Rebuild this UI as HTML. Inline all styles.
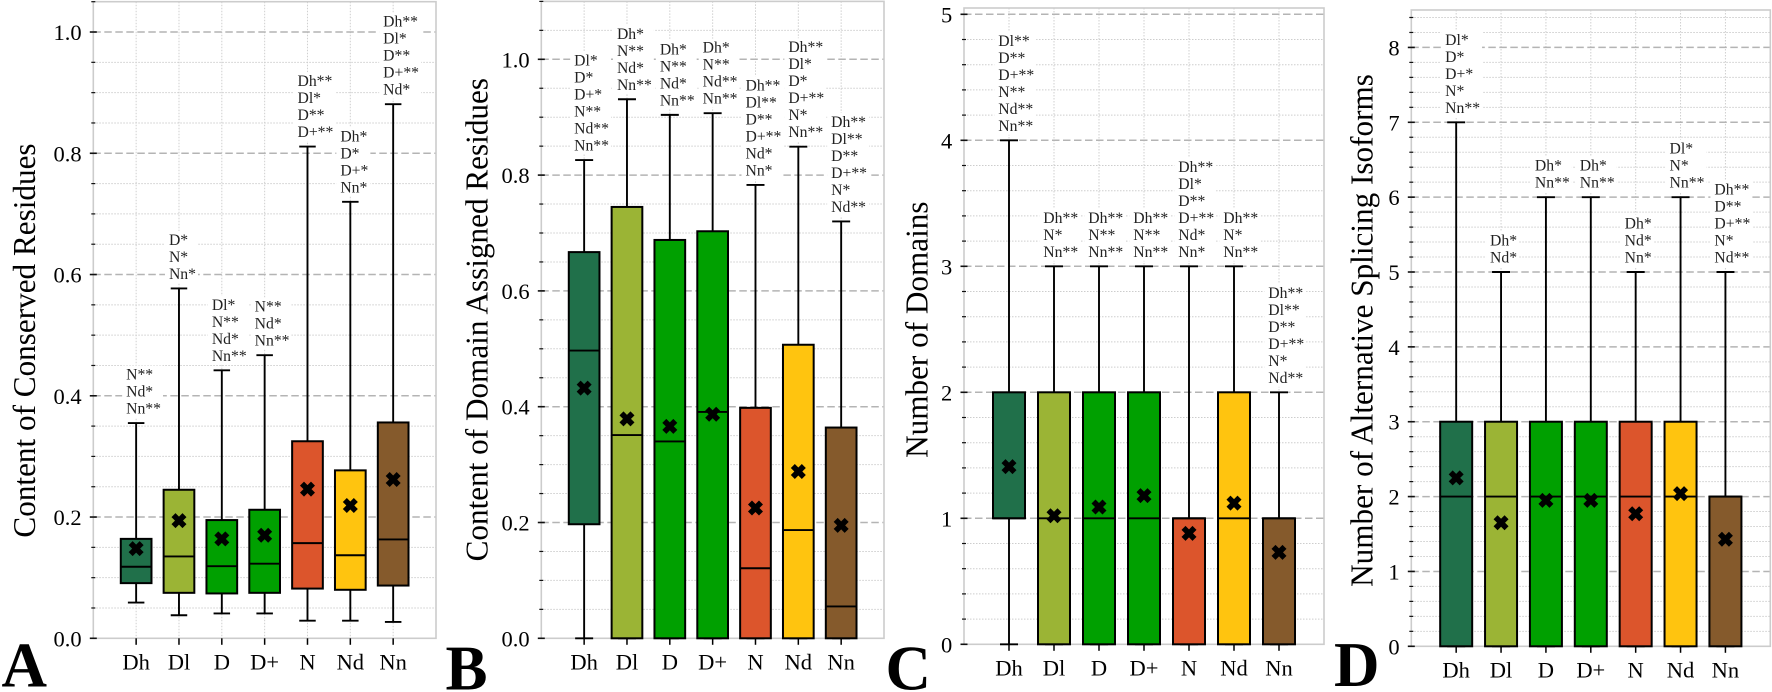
<!DOCTYPE html>
<html lang="en">
<head>
<meta charset="utf-8">
<title>Box plots of protein features</title>
<style>
html,body{margin:0;padding:0;background:#fff;width:1772px;height:692px;overflow:hidden}
svg{display:block;font-family:"Liberation Serif",serif;filter:blur(0.35px)}
</style>
</head>
<body>
<svg id="figure" xmlns="http://www.w3.org/2000/svg" width="1772" height="692" viewBox="0 0 1772 692"></svg>
<script>
const categories = ['Dh','Dl','D','D+','N','Nd','Nn'];

const panelAQ1 = [0.091,0.075,0.074,0.075,0.082,0.080,0.087];
const panelAMedian = [0.118,0.135,0.119,0.123,0.157,0.137,0.163];
const panelAQ3 = [0.164,0.245,0.195,0.212,0.325,0.277,0.356];
const panelALow = [0.059,0.038,0.041,0.041,0.029,0.029,0.027];
const panelAHigh = [0.355,0.577,0.442,0.467,0.811,0.720,0.881];
const panelAMean = [0.148,0.194,0.164,0.170,0.246,0.219,0.262];
const panelASig = [
  ['N**','Nd*','Nn**'],['D*','N*','Nn*'],['Dl*','N**','Nd*','Nn**'],['N**','Nd*','Nn**'],
  ['Dh**','Dl*','D**','D+**'],['Dh*','D*','D+*','Nn*'],['Dh**','Dl*','D**','D+**','Nd*']];
const panelATicks = ['0.0','0.2','0.4','0.6','0.8','1.0'];

const panelBQ1 = [0.197,0,0,0,0,0,0];
const panelBMedian = [0.497,0.351,0.340,0.391,0.121,0.187,0.055];
const panelBQ3 = [0.667,0.745,0.688,0.703,0.398,0.507,0.364];
const panelBLow = [0,0,0,0,0,0,0];
const panelBHigh = [0.826,0.931,0.904,0.907,0.783,0.849,0.720];
const panelBMean = [0.432,0.379,0.366,0.387,0.225,0.288,0.195];
const panelBSig = [
  ['Dl*','D*','D+*','N**','Nd**','Nn**'],['Dh*','N**','Nd*','Nn**'],['Dh*','N**','Nd*','Nn**'],
  ['Dh*','N**','Nd**','Nn**'],['Dh**','Dl**','D**','D+**','Nd*','Nn*'],
  ['Dh**','Dl*','D*','D+**','N*','Nn**'],['Dh**','Dl**','D**','D+**','N*','Nd**']];
const panelBTicks = ['0.0','0.2','0.4','0.6','0.8','1.0'];

const panelCQ1 = [1,0,0,0,0,0,0];
const panelCMedian = [1,1,1,1,1,1,1];
const panelCQ3 = [2,2,2,2,1,2,1];
const panelCLow = [0,0,0,0,0,0,0];
const panelCHigh = [4,3,3,3,3,3,2];
const panelCMean = [1.41,1.02,1.09,1.18,0.88,1.12,0.73];
const panelCSig = [
  ['Dl**','D**','D+**','N**','Nd**','Nn**'],['Dh**','N*','Nn**'],['Dh**','N**','Nn**'],
  ['Dh**','N**','Nn**'],['Dh**','Dl*','D**','D+**','Nd*','Nn*'],['Dh**','N*','Nn**'],
  ['Dh**','Dl**','D**','D+**','N*','Nd**']];
const panelCTicks = ['0','1','2','3','4','5'];

const panelDQ1 = [0,0,0,0,0,0,0];
const panelDMedian = [2,2,2,2,2,2,2];
const panelDQ3 = [3,3,3,3,3,3,2];
const panelDLow = [0,0,0,0,0,0,0];
const panelDHigh = [7,5,6,6,5,6,5];
const panelDMean = [2.25,1.65,1.95,1.95,1.77,2.04,1.43];
const panelDSig = [
  ['Dl*','D*','D+*','N*','Nn**'],['Dh*','Nd*'],['Dh*','Nn**'],['Dh*','Nn**'],
  ['Dh*','Nd*','Nn*'],['Dl*','N*','Nn**'],['Dh**','D**','D+**','N*','Nd**']];
const panelDTicks = ['0','1','2','3','4','5','6','7','8'];

const boxColors = ['#20704a','#9bb435','#00a000','#00a000','#dc552c','#ffc40f','#855a2c'];
const NS = 'http://www.w3.org/2000/svg';
const root = document.getElementById('figure');

const panels = [
  {id:'a',letter:'A',lx:1.5,ly:686.5,title:'Content of Conserved Residues',tx:35,ty:340.5,left:93.3,right:436,top:1.7,bottom:638.3,
   yMax:1.05,major:0.2,minor:0.05,boxW:30.7,cap:16.5,labelDx:-10,tickLabels:panelATicks,
   q1:panelAQ1,med:panelAMedian,q3:panelAQ3,lo:panelALow,hi:panelAHigh,mean:panelAMean,sig:panelASig},
  {id:'b',letter:'B',lx:445.5,ly:689.5,title:'Content of Domain Assigned Residues',tx:487.7,ty:319.7,left:541.3,right:884,top:1.4,bottom:638.3,
   yMax:1.1,major:0.2,minor:0.05,boxW:30.7,cap:18,labelDx:-10,tickLabels:panelBTicks,
   q1:panelBQ1,med:panelBMedian,q3:panelBQ3,lo:panelBLow,hi:panelBHigh,mean:panelBMean,sig:panelBSig},
  {id:'c',letter:'C',lx:885.5,ly:689.5,title:'Number of Domains',tx:927.7,ty:329.7,left:964,right:1324,top:8,bottom:644.3,
   yMax:5.05,major:1,minor:0.2,boxW:32,cap:18,labelDx:-10.7,tickLabels:panelCTicks,
   q1:panelCQ1,med:panelCMedian,q3:panelCQ3,lo:panelCLow,hi:panelCHigh,mean:panelCMean,sig:panelCSig},
  {id:'d',letter:'D',lx:1334,ly:686,title:'Number of Alternative Splicing Isoforms',tx:1372.7,ty:330.5,left:1411.3,right:1770.3,top:10,bottom:646.3,
   yMax:8.5,major:1,minor:0.2,boxW:32,cap:18,labelDx:-11,tickLabels:panelDTicks,
   q1:panelDQ1,med:panelDMedian,q3:panelDQ3,lo:panelDLow,hi:panelDHigh,mean:panelDMean,sig:panelDSig}
];

function mk(tag, attrs, parent) {
  const el = document.createElementNS(NS, tag);
  for (const k in attrs) el.setAttribute(k, attrs[k]);
  parent.appendChild(el);
  return el;
}

function drawPanel(p) {
  const yAxis = v => p.bottom - (v / p.yMax) * (p.bottom - p.top);
  const step = (p.right - p.left) / 8;
  const xAxis = i => p.left + step * (i + 1);

  const g = mk('g', {}, root);
  
  

  // vertical dotted grid
  categories.forEach((c, i) => {
    const gl = mk('line', {x1:xAxis(i),x2:xAxis(i),y1:p.top,y2:p.bottom,stroke:'#cfcfcf','stroke-width':1,'stroke-dasharray':'1.5 1.5'}, g);
    
    
  });

  // horizontal grid and ticks
  const nMinor = Math.floor(p.yMax / p.minor + 1e-6);
  const every = Math.round(p.major / p.minor);
  for (let k = 0; k <= nMinor; k++) {
    const v = k * p.minor;
    const y = yAxis(v);
    const isMajor = k % every === 0;
    const line = mk('line', isMajor
      ? {x1:p.left,x2:p.right,y1:y,y2:y,stroke:'#b4b4b4','stroke-width':1.5,'stroke-dasharray':'7.5 3.5'}
      : {x1:p.left,x2:p.right,y1:y,y2:y,stroke:'#cdcdcd','stroke-width':1,'stroke-dasharray':'1.5 1.5'}, g);
    
    
  }

  // spines
  const spine = mk('rect', {x:p.left,y:p.top,width:p.right-p.left,height:p.bottom-p.top,fill:'none',stroke:'#cccccc','stroke-width':1.6}, g);
  
  

  for (let k = 0; k <= nMinor; k++) {
    const y = yAxis(k * p.minor);
    const isMajor = k % every === 0;
    const tick = mk('line', {x1:p.left-(isMajor?3.5:2),x2:p.left+(isMajor?3.5:2),y1:y,y2:y,stroke:'#111','stroke-width':isMajor?1.6:1.2}, g);
    
    
  }
  p.tickLabels.forEach(label => {
    const t = mk('text', {x:p.left-11.7,y:yAxis(parseFloat(label))+8,'text-anchor':'end','font-size':22.5,fill:'#000'}, g);
    t.textContent = label;
    
    
  });

  const title = mk('text', {transform:'translate('+p.tx+' '+p.ty+') rotate(-90)','text-anchor':'middle','font-size':31.2,fill:'#000'}, g);
  title.textContent = p.title;
  
  

  // boxes
  categories.forEach((c, i) => {
    const x = xAxis(i);
    const wh = mk('line', {x1:x,x2:x,y1:yAxis(p.q3[i]),y2:yAxis(p.hi[i]),stroke:'#000','stroke-width':1.9}, g);
    
    
    const wl = mk('line', {x1:x,x2:x,y1:yAxis(p.q1[i]),y2:yAxis(p.lo[i]),stroke:'#000','stroke-width':1.9}, g);
    
    
    const ch = mk('line', {x1:x-p.cap/2,x2:x+p.cap/2,y1:yAxis(p.hi[i]),y2:yAxis(p.hi[i]),stroke:'#000','stroke-width':1.9}, g);
    
    
    const cl = mk('line', {x1:x-p.cap/2,x2:x+p.cap/2,y1:yAxis(p.lo[i]),y2:yAxis(p.lo[i]),stroke:'#000','stroke-width':1.9}, g);
    
    

    const box = mk('rect', {x:x-p.boxW/2,y:yAxis(p.q3[i]),width:p.boxW,height:yAxis(p.q1[i])-yAxis(p.q3[i]),fill:boxColors[i],stroke:'#000','stroke-width':2}, g);
    
    
    const med = mk('line', {x1:x-p.boxW/2,x2:x+p.boxW/2,y1:yAxis(p.med[i]),y2:yAxis(p.med[i]),stroke:'#000','stroke-width':1.9}, g);
    
    

    const my = yAxis(p.mean[i]);
    const mark = mk('path', {transform:'translate('+x+' '+my+')',fill:'#000',d:'M-3.5,-7.5 L0,-4 L3.5,-7.5 L7.5,-3.5 L4,0 L7.5,3.5 L3.5,7.5 L0,4 L-3.5,7.5 L-7.5,3.5 L-4,0 L-7.5,-3.5 Z'}, g);
    
    

    const xt = mk('line', {x1:x,x2:x,y1:p.bottom,y2:p.bottom+6.5,stroke:'#000','stroke-width':1.5}, g);
    
    
    const xl = mk('text', {x:x,y:p.bottom+31,'text-anchor':'middle','font-size':22.5,fill:'#000'}, g);
    xl.textContent = c;
    
    

    // significance annotation
    const lines = p.sig[i];
    const lastBase = yAxis(p.hi[i]) - 9.5;
    const lx = x + p.labelDx;
    const bg = mk('rect', {fill:'#fff'}, g);
    
    
    let w = 0;
    lines.forEach((s, n) => {
      const t = mk('text', {x:lx,y:lastBase-(lines.length-1-n)*17,'font-size':15.7,fill:'#222'}, g);
      t.textContent = s;
      
      
      w = Math.max(w, t.getComputedTextLength());
    });
    bg.setAttribute('x', lx - 4);
    bg.setAttribute('y', lastBase - lines.length * 17 + 3);
    bg.setAttribute('width', w + 6);
    bg.setAttribute('height', lines.length * 17 + 1);
  });

  const letter = mk('text', {x:p.lx,y:p.ly,'font-size':63,'font-weight':'bold',fill:'#000'}, g);
  letter.textContent = p.letter;
  
  
}

panels.forEach(drawPanel);
</script>
</body>
</html>
